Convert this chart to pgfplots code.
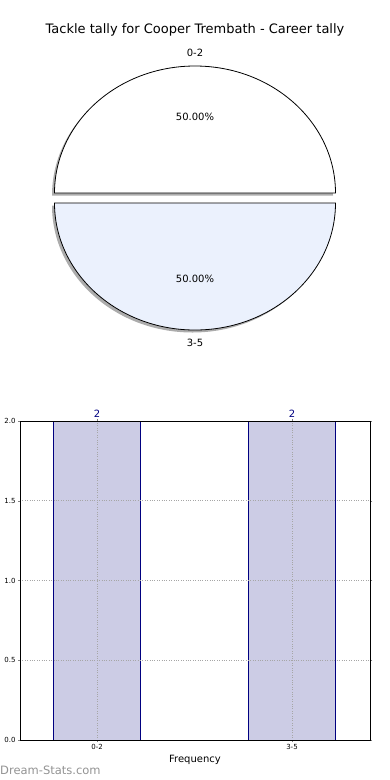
\documentclass[border=0pt]{standalone}
\usepackage{pgfplots}
\usepackage{pgfplotstable}
\pgfplotsset{compat=1.18}
\usepackage{fontspec}
\setmainfont{DejaVu Sans}
\pgfkeys{/pgf/number format/assume math mode=true}
\definecolor{piefillB}{HTML}{EBF1FD}
\definecolor{barfill}{HTML}{CCCCE5}
\definecolor{navyc}{HTML}{000080}
\pgfplotstableread{
label value
0-2 2
3-5 2
}\tallytable
\pgfplotstablegetelem{0}{value}\of\tallytable\let\va\pgfplotsretval
\pgfplotstablegetelem{1}{value}\of\tallytable\let\vb\pgfplotsretval
\pgfmathsetmacro{\tot}{\va+\vb}
\pgfmathsetmacro{\angA}{360*\va/\tot}
\pgfmathsetmacro{\midA}{\angA/2}
\pgfmathsetmacro{\midB}{\angA+(360-\angA)/2}
\pgfmathsetmacro{\pA}{100*\va/\tot}
\pgfmathsetmacro{\pB}{100*\vb/\tot}
\pgfmathsetmacro{\dxA}{5*cos(\midA)}
\pgfmathsetmacro{\dyA}{5*sin(\midA)}
\pgfmathsetmacro{\dxB}{5*cos(\midB)}
\pgfmathsetmacro{\dyB}{5*sin(\midB)}
\pgfmathsetmacro{\sxA}{\dxA-2.5}
\pgfmathsetmacro{\syA}{\dyA-2.5}
\pgfmathsetmacro{\sxB}{\dxB-2.5}
\pgfmathsetmacro{\syB}{\dyB-2.5}
\pgfmathsetmacro{\lxA}{\dxA+154.5*cos(\midA)}
\pgfmathsetmacro{\lyA}{\dyA+139.7*sin(\midA)}
\pgfmathsetmacro{\lxB}{\dxB+154.5*cos(\midB)}
\pgfmathsetmacro{\lyB}{\dyB+139.7*sin(\midB)}
\pgfmathsetmacro{\qxA}{\dxA+84.3*cos(\midA)}
\pgfmathsetmacro{\qyA}{\dyA+76.2*sin(\midA)}
\pgfmathsetmacro{\qxB}{\dxB+84.3*cos(\midB)}
\pgfmathsetmacro{\qyB}{\dyB+76.2*sin(\midB)}
\begin{document}
\begin{tikzpicture}
% pie and texts on a pixel canvas axis
\begin{axis}[at={(0,0)}, anchor=south west, scale only axis, width=390pt, height=780pt,
  xmin=0, xmax=390, ymin=0, ymax=780, y dir=reverse, hide axis, clip=false]
  \coordinate (C) at (axis cs:195,198);
  % shadows
  \fill[gray!65] ([shift={(\sxA pt,\syA pt)}]C) -- ++(0:140.5pt and 127pt)
     arc[start angle=0, end angle=\angA, x radius=140.5pt, y radius=127pt] -- cycle;
  \fill[gray!65] ([shift={(\sxB pt,\syB pt)}]C) -- ++(\angA:140.5pt and 127pt)
     arc[start angle=\angA, end angle=360, x radius=140.5pt, y radius=127pt] -- cycle;
  % wedges
  \filldraw[fill=white, draw=black, line width=0.8pt] ([shift={(\dxA pt,\dyA pt)}]C) -- ++(0:140.5pt and 127pt)
     arc[start angle=0, end angle=\angA, x radius=140.5pt, y radius=127pt] -- cycle;
  \filldraw[fill=piefillB, draw=black, line width=0.8pt] ([shift={(\dxB pt,\dyB pt)}]C) -- ++(\angA:140.5pt and 127pt)
     arc[start angle=\angA, end angle=360, x radius=140.5pt, y radius=127pt] -- cycle;
  % labels
  \node[font=\fontsize{10}{12}\selectfont] at ([shift={(\lxA pt,\lyA pt)}]C) {0-2};
  \node[font=\fontsize{10}{12}\selectfont] at ([shift={(\lxB pt,\lyB pt)}]C) {3-5};
  \node[font=\fontsize{10}{12}\selectfont] at ([shift={(\qxA pt,\qyA pt)}]C) {\pgfmathprintnumber[fixed,fixed zerofill,precision=2]{\pA}\%};
  \node[font=\fontsize{10}{12}\selectfont] at ([shift={(\qxB pt,\qyB pt)}]C) {\pgfmathprintnumber[fixed,fixed zerofill,precision=2]{\pB}\%};
  \node[font=\fontsize{13}{15}\selectfont] at (axis cs:195,30) {Tackle tally for Cooper Trembath - Career tally};
  \node[font=\fontsize{11.5}{13}\selectfont, text=gray!85, anchor=west, inner sep=0pt] at (axis cs:0,770) {Dream-Stats.com};
\end{axis}
% bar chart
\begin{axis}[at={(20pt,40pt)}, anchor=south west, scale only axis, width=350pt, height=319pt,
  xmin=-0.395, xmax=1.4, ymin=0, ymax=2,
  ytick={0,0.5,1,1.5,2},
  yticklabel style={/pgf/number format/fixed,/pgf/number format/fixed zerofill,/pgf/number format/precision=1},
  /pgf/number format/assume math mode=true,
  xtick=data, xticklabels={0-2,3-5},
  tick label style={font=\fontsize{7}{8}\selectfont},
  xticklabel style={yshift=1pt},
  yticklabel style={xshift=1pt},
  major tick length=2pt, tick style={gray, thin},
  tick align=outside,
  grid=major, grid style={dotted, gray!70, line width=0.9pt},
  axis on top,
  axis line style={black, line width=0.8pt},
  xlabel={Frequency}, xlabel style={font=\fontsize{10}{12}\selectfont, yshift=1pt},
  nodes near coords, nodes near coords style={font=\fontsize{10}{11}\selectfont, text=navyc, anchor=south, yshift=0pt},
  point meta=explicit symbolic]
  \addplot[ybar, bar width=0.446, fill=barfill, draw=navyc, line width=0.7pt]
    table[x expr=\coordindex, y=value, meta=value]{\tallytable};
\end{axis}
\pgfresetboundingbox
\useasboundingbox (0,0) rectangle (390pt,780pt);
\end{tikzpicture}
\end{document}
